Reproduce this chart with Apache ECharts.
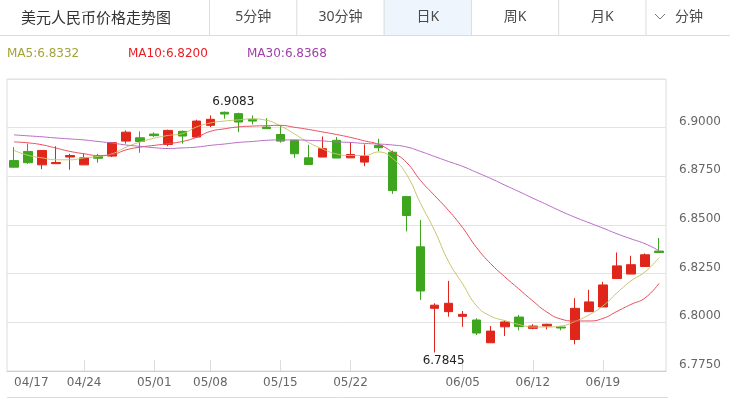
<!DOCTYPE html>
<html><head><meta charset="utf-8">
<script src="https://cdn.jsdelivr.net/npm/echarts@6/dist/echarts.min.js"></script>
<style>html,body{margin:0;padding:0;background:#fff}#c{width:730px;height:400px}</style>
</head><body><div id="c"></div>
<script>
const dates = ['04/17','04/18','04/19','04/20','04/21','04/24','04/25','04/26','04/27','04/28','05/01','05/02','05/03','05/04','05/08','05/09','05/10','05/11','05/12','05/15','05/16','05/17','05/18','05/19','05/22','05/23','05/24','05/25','05/26','05/31','06/01','06/02','06/05','06/06','06/07','06/08','06/09','06/12','06/13','06/14','06/15','06/16','06/19','06/20','06/21','06/22','06/23'];
const tickLabels = ['04/17','04/24','05/01','05/08','05/15','05/22','06/05','06/12','06/19'];
const opens  = [6.8831,6.8878,6.8809,6.8815,6.8849,6.8809,6.8852,6.8854,6.8931,6.8948,6.8967,6.8914,6.8981,6.8952,6.9012,6.9079,6.9072,6.9043,6.9003,6.8965,6.8935,6.8845,6.8849,6.8935,6.8845,6.8823,6.8909,6.8874,6.8646,6.8388,6.8072,6.8055,6.8031,6.8012,6.7895,6.7977,6.8027,6.7969,6.7981,6.7976,6.7912,6.8055,6.8079,6.8225,6.8248,6.8287,6.8366];
const closes = [6.8797,6.8820,6.8883,6.8821,6.8857,6.8845,6.8843,6.8923,6.8977,6.8929,6.8959,6.8986,6.8957,6.9034,6.9043,6.9070,6.9029,6.9034,6.8995,6.8931,6.8866,6.8811,6.8892,6.8844,6.8862,6.8854,6.8897,6.8677,6.8549,6.8161,6.8088,6.8098,6.8041,6.7945,6.7955,6.8002,6.7979,6.7981,6.7990,6.7971,6.8072,6.8105,6.8192,6.8290,6.8296,6.8347,6.8359];
const lows   = [6.8795,6.8814,6.8787,6.8814,6.8784,6.8809,6.8820,6.8849,6.8918,6.8871,6.8952,6.8905,6.8918,6.8948,6.9003,6.9046,6.8977,6.9017,6.8995,6.8923,6.8845,6.8811,6.8849,6.8844,6.8845,6.8802,6.8879,6.8660,6.8467,6.8115,6.7845,6.8029,6.7977,6.7935,6.7895,6.7930,6.7959,6.7964,6.7964,6.7959,6.7887,6.8055,6.8079,6.8225,6.8248,6.8287,6.8359];
const highs  = [6.8900,6.8918,6.8885,6.8905,6.8866,6.8866,6.8866,6.8926,6.8986,6.8981,6.8976,6.8990,6.8986,6.9041,6.9063,6.9083,6.9077,6.9063,6.9049,6.9012,6.8938,6.8912,6.8955,6.8952,6.8924,6.8914,6.8943,6.8883,6.8646,6.8526,6.8098,6.8213,6.8058,6.8021,6.7981,6.8010,6.8038,6.7990,6.7993,6.7979,6.8124,6.8167,6.8208,6.8359,6.8342,6.8354,6.8433];
const ma5  = [6.8883,6.8858,6.8845,6.8835,6.8835,6.8845,6.8852,6.8866,6.8900,6.8926,6.8946,6.8960,6.8969,6.9003,6.9024,6.9034,6.9040,6.9045,6.9038,6.9009,6.8968,6.8924,6.8891,6.8865,6.8857,6.8857,6.8875,6.8842,6.8759,6.8610,6.8471,6.8311,6.8197,6.8084,6.8032,6.8009,6.7989,6.7976,6.7976,6.7981,6.8004,6.8038,6.8084,6.8151,6.8213,6.8259,6.8332];
const ma10 = [6.8927,6.8922,6.8912,6.8895,6.8878,6.8866,6.8857,6.8862,6.8886,6.8900,6.8909,6.8918,6.8929,6.8950,6.8981,6.8994,6.9004,6.9008,6.9010,6.9012,6.9002,6.8991,6.8978,6.8965,6.8950,6.8932,6.8914,6.8874,6.8821,6.8728,6.8651,6.8574,6.8486,6.8383,6.8301,6.8234,6.8172,6.8110,6.8053,6.8017,6.8007,6.8007,6.8020,6.8056,6.8092,6.8125,6.8200];
const ma30 = [6.8963,6.8958,6.8953,6.8947,6.8942,6.8937,6.8929,6.8921,6.8911,6.8904,6.8897,6.8893,6.8896,6.8900,6.8909,6.8916,6.8924,6.8929,6.8935,6.8937,6.8937,6.8935,6.8932,6.8927,6.8924,6.8919,6.8916,6.8911,6.8901,6.8878,6.8852,6.8826,6.8801,6.8770,6.8739,6.8705,6.8672,6.8638,6.8605,6.8571,6.8540,6.8512,6.8484,6.8455,6.8429,6.8404,6.8368];
const headerTitle = '美元人民币价格走势图';
const tabs = ['5分钟','30分钟','日K','周K','月K'];
const activeTab = '日K';
const lastTab = '分钟';

const NUMFONT = '"DejaVu Sans",sans-serif';
const CJKFONT = '"Noto Sans","Noto Sans CJK SC",sans-serif';
const RED = '#e0261b', GREEN = '#3ea51f';
const C5 = '#c8c36a', C10 = '#ea4a58', C30 = '#b868c8';

const chart = echarts.init(document.getElementById('c'), null, {renderer: 'canvas'});

const edges = [209.5, 296.8, 384.1, 471.4, 558.7, 646];
const g = [];
tabs.forEach((t, i) => {
  if (t === activeTab) {
    g.push({type: 'rect', shape: {x: edges[i], y: 0, width: edges[i+1]-edges[i], height: 35}, style: {fill: '#eef5fd'}, z: 0});
  }
});
edges.forEach(x => g.push({type: 'line', shape: {x1: x, y1: 0, x2: x, y2: 35}, style: {stroke: '#dcdcdc', lineWidth: 1}, z: 1}));
g.push({type: 'line', shape: {x1: 0, y1: 35.5, x2: 730, y2: 35.5}, style: {stroke: '#dcdcdc', lineWidth: 1}, z: 1});
g.push({type: 'text', style: {text: headerTitle, x: 21, y: 17, fill: '#333', font: '15px "Noto Sans CJK SC", sans-serif', verticalAlign: 'middle'}, z: 2});
tabs.forEach((t, i) => {
  g.push({type: 'text', style: {text: t, x: (edges[i]+edges[i+1])/2, y: 17, fill: '#4a4a4a', font: '14px ' + CJKFONT, align: 'center', verticalAlign: 'middle'}, z: 2});
});
g.push({type: 'polyline', shape: {points: [[655, 14], [660, 19], [665, 14]]}, style: {stroke: '#777', lineWidth: 1, fill: null}, z: 2});
g.push({type: 'text', style: {text: lastTab, x: 675, y: 17, fill: '#4a4a4a', font: '14px ' + CJKFONT, verticalAlign: 'middle'}, z: 2});
const legendItems = [['MA5', ma5, '#a5a33a', 7], ['MA10', ma10, '#ec1b24', 128], ['MA30', ma30, '#a040a8', 247]];
legendItems.forEach(([n, arr, col, x]) => {
  g.push({type: 'text', style: {text: n + ':' + arr[arr.length-1].toFixed(4), x: x, y: 54, fill: col, font: '12px ' + NUMFONT, verticalAlign: 'middle'}, z: 2});
});
g.push({type: 'line', shape: {x1: 7, y1: 397.5, x2: 668, y2: 397.5}, style: {stroke: '#dcdcdc', lineWidth: 1}, z: 1});

const option = {
  animation: false,
  textStyle: {fontFamily: NUMFONT},
  graphic: g,
  grid: {left: 7, right: 64, top: 79, bottom: 29, show: true, borderColor: '#dcdcdc', borderWidth: 1},
  xAxis: {
    type: 'category', data: dates, boundaryGap: true,
    axisLine: {lineStyle: {color: '#cfcfcf'}},
    axisTick: {show: true, inside: true, length: 11, alignWithLabel: true,
      interval: (i, v) => i > 0 && tickLabels.includes(v), lineStyle: {color: '#dcdcdc'}},
    axisLabel: {interval: (i, v) => tickLabels.includes(v), color: '#666', fontSize: 12, fontFamily: NUMFONT, margin: 6, alignMinLabel: 'left', padding: [0, 0, 0, 0]},
    splitLine: {show: false}
  },
  yAxis: {
    type: 'value', position: 'right', min: 6.775, max: 6.925, interval: 0.025, scale: true,
    axisLine: {show: false}, axisTick: {show: false},
    splitLine: {lineStyle: {color: '#e3e3e3'}},
    axisLabel: {formatter: v => v.toFixed(4), color: '#666', fontSize: 12, fontFamily: NUMFONT, margin: 13, align: 'left', verticalAlign: 'bottom', showMaxLabel: false}
  },
  series: [
    {
      type: 'candlestick', barWidth: 9,
      data: dates.map((d, i) => [opens[i], closes[i], lows[i], highs[i]]),
      itemStyle: {color: RED, color0: GREEN, borderColor: RED, borderColor0: GREEN, borderWidth: 1},
      markPoint: {
        symbol: 'circle', symbolSize: 0, silent: true,
        label: {show: true, color: '#222', fontSize: 12, fontFamily: NUMFONT, formatter: p => Number(p.value).toFixed(4), offset: [9, 0]},
        data: [
          {type: 'max', valueDim: 'highest', label: {position: 'top', distance: 4}},
          {type: 'min', valueDim: 'lowest', label: {position: 'bottom', distance: 2}}
        ]
      }
    },
    {type: 'line', name: 'MA5', data: ma5, smooth: true, symbol: 'none', lineStyle: {width: 1, color: C5}, z: 3},
    {type: 'line', name: 'MA10', data: ma10, smooth: true, symbol: 'none', lineStyle: {width: 1, color: C10}, z: 3},
    {type: 'line', name: 'MA30', data: ma30, smooth: true, symbol: 'none', lineStyle: {width: 1, color: C30}, z: 3}
  ]
};
chart.setOption(option);
</script></body></html>
